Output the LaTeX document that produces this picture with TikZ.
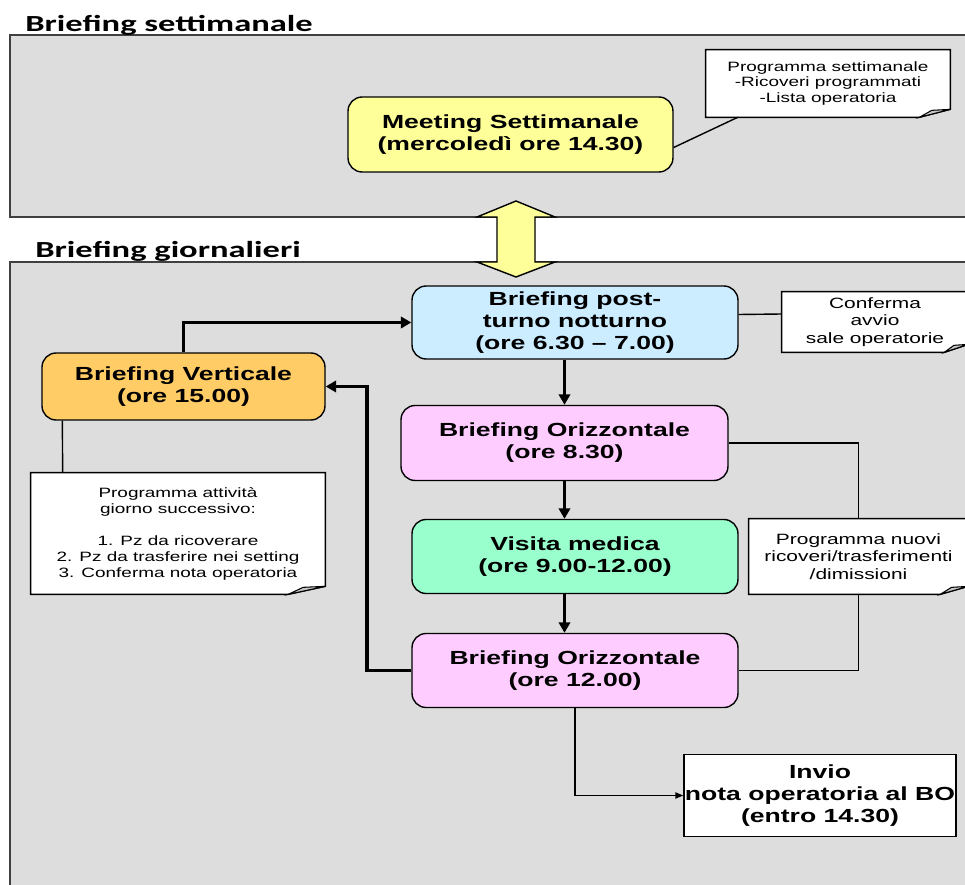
\documentclass[tikz,border=0pt]{standalone}
\usepackage{fontspec}
\usetikzlibrary{arrows.meta,calc}
\newfontfamily\arialx[FakeStretch=1.4]{Liberation Sans}
\newfontfamily\calx[FakeStretch=1.5]{Carlito}
\definecolor{panelgray}{HTML}{DDDDDD}
\definecolor{boxyellow}{HTML}{FFFF99}
\definecolor{boxblue}{HTML}{CCECFF}
\definecolor{boxorange}{HTML}{FFCC66}
\definecolor{boxpink}{HTML}{FFCCFF}
\definecolor{boxgreen}{HTML}{99FFCC}
% note outline with the folded bottom right corner
\newcommand\foldnote[2]{%
  \fill[panelgray] ($(#1.south east)+(-#2,0)$) -- (#1.south east) -- ($(#1.south east)+(0,-8)$) -- cycle;
  \draw[line width=0.8pt] (#1.north west) -- (#1.north east) -- ($(#1.south east)+(0,-8)$) -- ($(#1.south east)+(-#2,0)$) -- (#1.south west) -- cycle;
  \filldraw[fill=gray!45, line width=0.6pt] ($(#1.south east)+(-#2,0)$) -- ($(#1.south east)+(0,-8)$) -- ($(#1.south east)+(-0.6*#2,-7)$) -- cycle;}
\begin{document}
\begin{tikzpicture}[x=0.02cm, y=-0.02cm,
  panel/.style={fill=panelgray, draw=black!75, line width=0.6pt},
  title/.style={anchor=base west, inner sep=0, font=\calx\fontsize{13.1}{15}\selectfont\bfseries},
  main node/.style={draw, rounded corners=8pt, line width=0.8pt, align=center, inner sep=0, font=\arialx\fontsize{10.8}{12.5}\selectfont\bfseries},
  note/.style={fill=white, inner sep=0, align=center, font=\arialx\fontsize{7.7}{9.1}\selectfont},
  bignote/.style={note, font=\arialx\fontsize{8.5}{9.9}\selectfont},
  flow/.style={line width=2.2pt, -{Triangle[length=6pt,width=6.5pt]}},
  link/.style={line width=0.8pt}]

  \useasboundingbox (0,0) rectangle (965,885);
  \clip (0,0) rectangle (965,885);

  \draw[panel] (10,35) rectangle (985,217);
  \draw[panel] (10,262) rectangle (985,905);
  \node[title] (tw) at (25,32) {Briefing settimanale};
  \node[title] (td) at (35,258) {Briefing giornalieri};

  \filldraw[fill=boxyellow, line width=0.8pt] (516,201) -- (555,217) -- (535,217) -- (535,262) -- (555,262) -- (516,277) -- (477,262) -- (497,262) -- (497,217) -- (477,217) -- cycle;

  \node[main node, fill=boxyellow, minimum width=6.5cm, minimum height=1.5cm] (meet) at (510.5,134.5) {Meeting Settimanale\\(mercoledì ore 14.30)};
  \node[note, minimum width=4.88cm, minimum height=1.34cm] (settnote) at (828,83.5) {Programma settimanale\\-Ricoveri programmati\\-Lista operatoria};

  \node[main node, fill=boxblue, minimum width=6.52cm, minimum height=1.46cm] (post) at (575,322.5) {Briefing post-\\turno notturno\\(ore 6.30 – 7.00)};
  \node[bignote, minimum width=3.72cm, minimum height=1.2cm] (confnote) at (875,322) {Conferma\\avvio\\sale operatorie};
  \node[main node, fill=boxorange, minimum width=5.66cm, minimum height=1.34cm] (vert) at (183.5,386.5) {Briefing Verticale\\(ore 15.00)};
  \node[main node, fill=boxpink, minimum width=6.54cm, minimum height=1.5cm] (oriz1) at (564.5,443) {Briefing Orizzontale\\(ore 8.30)};
  \node[main node, fill=boxgreen, minimum width=6.52cm, minimum height=1.48cm] (visita) at (575,556.5) {Visita medica\\(ore 9.00-12.00)};
  \node[main node, fill=boxpink, minimum width=6.52cm, minimum height=1.48cm] (oriz2) at (575,670.5) {Briefing Orizzontale\\(ore 12.00)};
  \node[main node, fill=white, rounded corners=0pt, minimum width=5.44cm, minimum height=1.64cm] (invio) at (820,795.5) {Invio\\nota operatoria al BO\\(entro 14.30)};
  \node[note, minimum width=5.88cm, minimum height=2.42cm] (vnote) at (178,533.5) {Programma attività\\giorno successivo:\\[9.1pt]1. Pz da ricoverare\\2. Pz da trasferire nei setting\\3. Conferma nota operatoria};
  \node[bignote, minimum width=4.38cm, minimum height=1.5cm] (nuovinote) at (858.5,556.5) {Programma nuovi\\ricoveri/trasferimenti\\/dimissioni};

  \foldnote{settnote}{31}
  \foldnote{confnote}{24}
  \foldnote{vnote}{37}
  \foldnote{nuovinote}{28}

  \draw[link] ($(meet.east)+(0,13)$) -- ($(settnote.south west)+(32,0)$);
  \draw[link] ($(post.east)+(0,-8)$) -- ($(confnote.west)+(0,-8)$);
  \draw[link] ($(vert.south west)+(21,0)$) -- ($(vnote.north west)+(32,0)$);
  \draw[link] (oriz1.east) -| (nuovinote.north);
  \draw[link] (nuovinote.south) |- (oriz2.east);

  \draw[flow] (vert.north) |- (post.west);
  \draw[flow] (post.south -| oriz1.north) -- (oriz1.north);
  \draw[flow] (oriz1.south) -- (oriz1.south |- visita.north);
  \draw[flow] (oriz1.south |- visita.south) -- (oriz1.south |- oriz2.north);
  \draw[flow] (oriz2.west) -- ++(-44,0) |- (vert.east);
  \draw[link, -{Triangle[length=4.5pt,width=3.5pt]}] (oriz2.south) |- (invio.west);
\end{tikzpicture}
\end{document}
